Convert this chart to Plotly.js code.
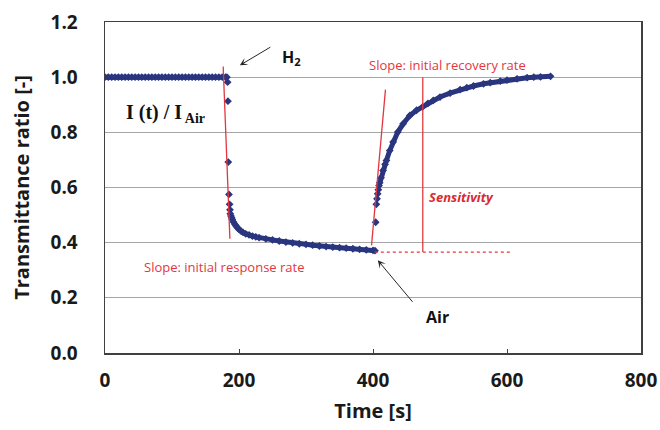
<!DOCTYPE html>
<html>
<head>
<meta charset="utf-8">
<script src="https://cdn.plot.ly/plotly-3.0.1.min.js"></script>
<style>html,body{margin:0;padding:0;background:#fff;}#chart{width:660px;height:430px;}</style>
</head>
<body>
<div id="chart"></div>
<script>
// ---- data ----
// baseline in air (before H2)
var flatT = [0,5,10,15,20,25,30,35,40,45,50,55,60,65,70,75,80,85,90,95,100,105,110,115,120,125,130,135,140,145,150,155,160,165,170,175,180,182];
var flatY = [1.0,1.0,1.0,1.0,1.0,1.0,1.0,1.0,1.0,1.0,1.0,1.0,1.0,1.0,1.0,1.0,1.0,1.0,1.0,1.0,1.0,1.0,1.0,1.0,1.0,1.0,1.0,1.0,1.0,1.0,1.0,1.0,1.0,1.0,1.0,1.0,1.0,1.0];
// fast drop after H2 exposure (isolated points)
var dropT = [183, 183.5, 184, 185, 186, 186.5];
var dropY = [0.982, 0.913, 0.692, 0.575, 0.539, 0.519];
// slow decay under H2
var decayT = [187,188,189,190,192,194,196,198,200,203,206,210,215,220,225,230,240,250,260,270,280,290,300,310,320,330,340,350,360,370,380,390,400,403];
var decayY = [0.505,0.497,0.490,0.484,0.474,0.466,0.459,0.453,0.448,0.442,0.437,0.432,0.428,0.424,0.421,0.418,0.414,0.410,0.406,0.402,0.399,0.396,0.394,0.391,0.388,0.386,0.384,0.382,0.380,0.378,0.376,0.374,0.372,0.371];
// fast rise after switching back to air (isolated points)
var riseT = [404, 405, 406, 407, 408];
var riseY = [0.474, 0.539, 0.559, 0.577, 0.592];
// recovery in air
var recT = [409,410,412,415,418,420,425,430,437,445,455,465,474,482,490,500,515,530,540,550,565,575,590,600,615,630,640,650,665];
var recY = [0.607,0.617,0.635,0.662,0.684,0.698,0.734,0.765,0.801,0.831,0.861,0.880,0.892,0.905,0.916,0.928,0.942,0.955,0.962,0.968,0.976,0.980,0.986,0.989,0.994,0.998,1.000,1.001,1.003];

// guide lines drawn on the chart
var respSlopeX = [176.4, 186.4];
var respSlopeY = [1.039, 0.414];
var recSlopeX = [397.8, 418.6];
var recSlopeY = [0.390, 0.955];
var sensX = [474.3, 474.3];
var sensY = [0.366, 1.0];
var baseX = [402.7, 606.6];
var baseY = [0.366, 0.366];

// axis ticks
var xTicks = [0, 200, 400, 600, 800];
var yTicks = [0.0, 0.2, 0.4, 0.6, 0.8, 1.0, 1.2];

var navy = '#2a357f';
var red = '#e3373f';

function seg(x, y) {
  return {x: x, y: y, type: 'scatter', mode: 'lines+markers',
    line: {color: navy, width: 5}, marker: {symbol: 'diamond', size: 6, color: navy},
    hoverinfo: 'skip', showlegend: false};
}
function pts(x, y) {
  return {x: x, y: y, type: 'scatter', mode: 'markers',
    marker: {symbol: 'diamond', size: 6, color: navy}, hoverinfo: 'skip', showlegend: false};
}
function guide(x, y, dash, w) {
  return {x: x, y: y, type: 'scatter', mode: 'lines',
    line: {color: red, width: w || 1.3, dash: dash || 'solid'}, hoverinfo: 'skip', showlegend: false};
}

var traces = [
  seg(flatT, flatY), pts(dropT, dropY), seg(decayT, decayY),
  pts(riseT, riseY), seg(recT, recY),
  guide(baseX, baseY, 'dot', 1.2),
  guide(respSlopeX, respSlopeY), guide(recSlopeX, recSlopeY), guide(sensX, sensY)
];

var tickFont = {family: 'Open Sans', size: 19, weight: 'bold', color: '#1a1a1a'};
var layout = {
  width: 660, height: 430,
  margin: {l: 105, r: 19, t: 22, b: 77},
  paper_bgcolor: '#ffffff', plot_bgcolor: '#ffffff',
  showlegend: false,
  xaxis: {
    range: [0, 800], tickvals: xTicks, ticktext: xTicks.map(String),
    ticks: 'inside', ticklen: 4, tickcolor: '#404040', tickwidth: 1,
    showgrid: false, zeroline: false,
    showline: true, mirror: true, linecolor: '#404040', linewidth: 1.5,
    tickfont: tickFont, ticklabelstandoff: 10,
    title: {text: 'Time [s]', font: {family: 'Open Sans', size: 20, weight: 'bold', color: '#1a1a1a'}, standoff: 11}
  },
  yaxis: {
    range: [0, 1.2], tickvals: yTicks, ticktext: yTicks.map(function(v){return v.toFixed(1);}),
    ticks: '', showgrid: true, gridcolor: '#a6a6a6', gridwidth: 1, zeroline: false,
    showline: true, mirror: true, linecolor: '#404040', linewidth: 1.5,
    tickfont: tickFont, ticklabelstandoff: 22,
    title: {text: 'Transmittance ratio [-]', font: {family: 'Open Sans', size: 20, weight: 'bold', color: '#1a1a1a'}, standoff: 15}
  },
  annotations: [
    {x: 28.3, y: 0.868, xref: 'x', yref: 'y', xanchor: 'left', yanchor: 'middle', showarrow: false,
     text: '<b>I (t) / I<sub> Air</sub></b>', font: {family: 'Liberation Serif', size: 20, color: '#111'}},
    {x: 179, y: 0.310, xref: 'x', yref: 'y', showarrow: false,
     text: 'Slope: initial response rate', font: {family: 'Open Sans', size: 13, color: red}},
    {x: 511.6, y: 1.043, xref: 'x', yref: 'y', showarrow: false,
     text: 'Slope: initial recovery rate', font: {family: 'Open Sans', size: 13, color: red}},
    {x: 532.4, y: 0.564, xref: 'x', yref: 'y', showarrow: false,
     text: '<b><i>Sensitivity</i></b>', font: {family: 'Open Sans', size: 13, color: '#d92a33'}},
    {x: 278, y: 1.072, xref: 'x', yref: 'y', showarrow: false,
     text: '<b>H<sub>2</sub></b>', font: {family: 'Open Sans', size: 16, color: '#111'}},
    {x: 496.6, y: 0.132, xref: 'x', yref: 'y', showarrow: false,
     text: '<b>Air</b>', font: {family: 'Open Sans', size: 16, color: '#111'}},
    {x: 201.3, y: 1.043, xref: 'x', yref: 'y', axref: 'x', ayref: 'y', ax: 249, ay: 1.112,
     text: '', showarrow: true, arrowhead: 3, arrowsize: 1.3, arrowwidth: 1, arrowcolor: '#262626', standoff: 0, startstandoff: 0},
    {x: 407.2, y: 0.336, xref: 'x', yref: 'y', axref: 'x', ayref: 'y', ax: 460.9, ay: 0.180,
     text: '', showarrow: true, arrowhead: 3, arrowsize: 1.3, arrowwidth: 1, arrowcolor: '#262626', standoff: 0, startstandoff: 0}
  ]
};

Plotly.newPlot('chart', traces, layout, {staticPlot: true, displayModeBar: false});
</script>
</body>
</html>
